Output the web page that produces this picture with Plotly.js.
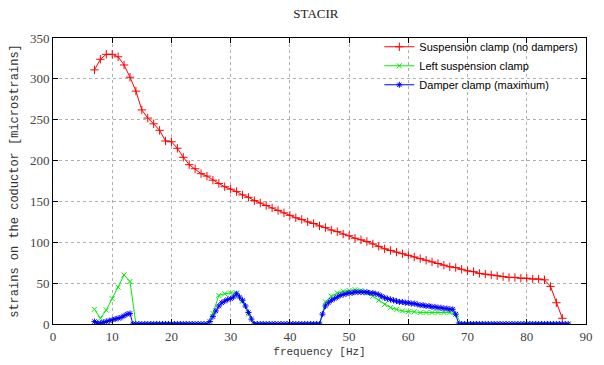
<!DOCTYPE html>
<html>
<head>
<meta charset="utf-8">
<script src="https://cdn.plot.ly/plotly-3.0.1.min.js"></script>
<style>html,body{margin:0;padding:0;background:#fff;}#chart{width:604px;height:365px;}</style>
</head>
<body>
<div id="chart"></div>
<script>
// Suspension clamp (no dampers): frequency [Hz], strain
const redFreq = [7,8,9,10,11,12,13,14,15,16,17,18,19,20,21,22,23,24,25,26,27,28,29,30,31,32,33,34,35,36,37,38,39,40,41,42,43,44,45,46,47,48,49,50,51,52,53,54,55,56,57,58,59,60,61,62,63,64,65,66,67,68,69,70,71,72,73,74,75,76,77,78,79,80,81,82,83,84,85,86];
const redStrain = [311,324,330,330,327,317,302,285,262,252,245,237,224,223,215,204,195,190,184,181,176,172,168,165,162,158,155,151,148,145,142,139,136,133,130,128,125,123,120,118,115,113,110,108,105,103,101,98,95,92,90,88,86,84,82,80,78,76,74,72,70,69,67,65,64,62,61,60,59,58,57,57,56,56,55,55,54,46,26,7];

// Left suspension clamp
const greenFreq = [7,8,9,10,11,12,13,14,15,16,17,18,19,20,21,22,23,24,25,26,27,28,29,30,31,32,33,34,35,36,37,38,39,40,41,42,43,44,45,46,47,48,49,50,51,52,53,54,55,56,57,58,59,60,61,62,63,64,65,66,67,68,69,70,71,72,73,74,75,76,77,78,79,80,81,82,83,84,85,86,87];
const greenStrain = [18,7,17,31,45,60,52,
  0,0,0,0,0,0,0,0,0,0,0,0,0,
  13,35,37,38,38,28,12,
  0,0,0,0,0,0,0,0,0,0,0,0,
  27,34,38,40,41,42,41,38,34,29,24,20,18,16,15,15,14,14,14,14,14,14,12,
  0,0,0,0,0,0,0,0,0,0,0,0,0,0,0,0,0,0,0];

// Damper clamp (maximum)
const blueFreq = [7,7.5,8,8.5,9,9.5,10,10.5,11,11.5,12,12.5,13,13.5,
  14,14.5,15,15.5,16,16.5,17,17.5,18,18.5,19,19.5,20,20.5,21,21.5,22,22.5,23,23.5,24,24.5,25,25.5,26,
  26.5,27,27.5,28,28.5,29,29.5,30,30.5,31,31.5,32,32.5,33,33.5,
  34,34.5,35,35.5,36,36.5,37,37.5,38,38.5,39,39.5,40,40.5,41,41.5,42,42.5,43,43.5,44,44.5,45,
  45.5,46,46.5,47,47.5,48,48.5,49,49.5,50,50.5,51,51.5,52,52.5,53,53.5,54,54.5,55,55.5,56,56.5,57,57.5,58,58.5,59,59.5,60,60.5,61,61.5,62,62.5,63,63.5,64,64.5,65,65.5,66,66.5,67,67.5,68,
  68.5,69,69.5,70,70.5,71,71.5,72,72.5,73,73.5,74,74.5,75,75.5,76,76.5,77,77.5,78,78.5,79,79.5,80,80.5,81,81.5,82,82.5,83,83.5,84,84.5,85,85.5,86,86.5,87];
const blueStrain = [3,1,1,2,3,4,5,6,7,8,10,12,13,0,
  0,0,0,0,0,0,0,0,0,0,0,0,0,0,0,0,0,0,0,0,0,0,0,0,0,
  3,9,16,22,26,28,30,31,33,37,33,29,22,14,6,
  0,0,0,0,0,0,0,0,0,0,0,0,0,0,0,0,0,0,0,0,0,0,0,
  12,22,26,29,31,33,35,36,37,38,38,39,39,39,39,39,38,38,37,36,34,32,31,30,29,28,27,27,26,26,25,25,24,23,23,22,22,21,21,20,20,19,19,18,18,12,
  0,0,0,0,0,0,0,0,0,0,0,0,0,0,0,0,0,0,0,0,0,0,0,0,0,0,0,0,0,0,0,0,0,0,0,0,0,0];

const seriesNames = ['Suspension clamp (no dampers)', 'Left suspension clamp', 'Damper clamp (maximum)'];
const xTickVals = [0,10,20,30,40,50,60,70,80,90];
const yTickVals = [0,50,100,150,200,250,300,350];

const serif = 'Liberation Serif, Times New Roman, serif';
const mono = 'Liberation Mono, DejaVu Sans Mono, monospace';

function trace(x, y, name, color, symbol, size) {
  return {
    x: x, y: y, name: name, type: 'scatter', mode: 'lines+markers',
    line: {color: color, width: 1},
    marker: {symbol: symbol, size: size, color: color, line: {color: color, width: 1}},
    cliponaxis: true
  };
}

const data = [
  trace(redFreq, redStrain, seriesNames[0], '#ff0000', 'cross-thin-open', 6),
  trace(greenFreq, greenStrain, seriesNames[1], '#00ee00', 'x-thin-open', 5),
  trace(blueFreq, blueStrain, seriesNames[2], '#0000ff', 'asterisk-open', 5)
];

const axisCommon = {
  showline: true, linecolor: '#000', linewidth: 1, mirror: 'ticks',
  ticks: 'inside', ticklen: 5, tickcolor: '#000', tickwidth: 1,
  showgrid: true, gridcolor: '#b0b0b0', gridwidth: 1, griddash: 'dot',
  zeroline: false,
  tickfont: {family: serif, size: 13, color: '#444'}
};

const layout = {
  width: 604, height: 365,
  margin: {l: 53, r: 18, t: 38, b: 41},
  paper_bgcolor: '#fff', plot_bgcolor: '#fff',
  title: {text: 'STACIR', font: {family: serif, size: 13, color: '#222'}, x: 0.523, xanchor: 'center', y: 0.962, yanchor: 'middle'},
  xaxis: Object.assign({}, axisCommon, {
    range: [0, 90], tickvals: xTickVals,
    title: {text: 'frequency [Hz]', font: {family: mono, size: 11, color: '#333'}, standoff: 4}
  }),
  yaxis: Object.assign({}, axisCommon, {
    range: [0, 350], tickvals: yTickVals,
    title: {text: 'strains on the coductor [microstrains]', font: {family: mono, size: 12, color: '#333'}, standoff: 8}
  }),
  legend: {
    x: 0.995, xanchor: 'right', y: 1.02, yanchor: 'top',
    bgcolor: 'rgba(255,255,255,0)', borderwidth: 0,
    font: {family: 'Liberation Sans, Arial, sans-serif', size: 11, color: '#000'},
    tracegroupgap: 0, itemwidth: 30
  },
  showlegend: true
};

Plotly.newPlot('chart', data, layout, {displayModeBar: false, staticPlot: true});
</script>
</body>
</html>
